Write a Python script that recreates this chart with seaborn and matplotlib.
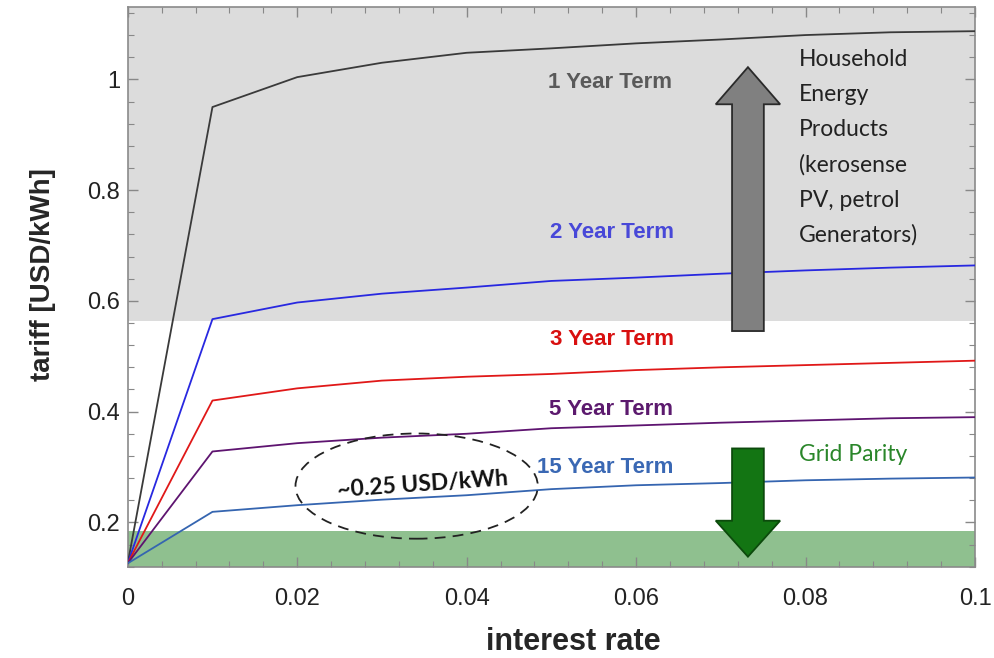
import numpy as np
import pandas as pd
import matplotlib
matplotlib.use("Agg")
import matplotlib.pyplot as plt
from matplotlib.patches import Ellipse, FancyArrow
from matplotlib.ticker import MultipleLocator
import seaborn as sns

# data
rate = [0.0, 0.01, 0.02, 0.03, 0.04, 0.05, 0.06, 0.07, 0.08, 0.09, 0.10]
term_1y = [0.126, 0.950, 1.004, 1.030, 1.048, 1.056, 1.065, 1.072, 1.080, 1.085, 1.087]
term_2y = [0.126, 0.567, 0.597, 0.613, 0.624, 0.636, 0.642, 0.649, 0.655, 0.660, 0.664]
term_3y = [0.126, 0.420, 0.442, 0.456, 0.463, 0.468, 0.475, 0.480, 0.484, 0.488, 0.492]
term_5y = [0.126, 0.328, 0.343, 0.353, 0.360, 0.370, 0.375, 0.380, 0.384, 0.388, 0.390]
term_15y = [0.126, 0.219, 0.231, 0.241, 0.249, 0.260, 0.267, 0.271, 0.276, 0.279, 0.281]

terms = ["1 Year Term", "2 Year Term", "3 Year Term", "5 Year Term", "15 Year Term"]
line_colors = ["#3a3a3a", "#2828e0", "#e01818", "#5e1470", "#3565b0"]
label_colors = ["#5a5a5a", "#4848d8", "#d81010", "#5c1a6e", "#3a68b4"]

household_lines = ["Household", "Energy", "Products", "(kerosense", "PV, petrol", "Generators)"]

grid_parity_top = 0.185
household_bottom = 0.564
ylim = (0.12, 1.13)
xlim = (0.0, 0.1)

df = pd.DataFrame({
    "rate": rate * 5,
    "tariff": term_1y + term_2y + term_3y + term_5y + term_15y,
    "term": [t for t in terms for _ in rate],
})

sns.set_style("ticks")
plt.rcParams["font.family"] = ["Liberation Sans", "DejaVu Sans"]
side_font = ["Lato", "DejaVu Sans"]

fig = plt.figure(figsize=(9.94, 6.58), dpi=100)
# right edge pulled in a little so the "0.1" tick label stays on the canvas
ax = fig.add_axes([0.1285, 0.1388, 0.8524, 0.85])

# shaded bands
ax.axhspan(household_bottom, ylim[1], color="#dcdcdc", zorder=0, lw=0)
ax.axhspan(ylim[0], grid_parity_top, color="#8fc08f", zorder=0, lw=0)

sns.lineplot(data=df, x="rate", y="tariff", hue="term", hue_order=terms,
             palette=dict(zip(terms, line_colors)), linewidth=1.3,
             legend=False, ax=ax, zorder=3)

ax.set_xlim(*xlim)
ax.set_ylim(*ylim)
ax.xaxis.set_major_locator(MultipleLocator(0.02))
ax.xaxis.set_minor_locator(MultipleLocator(0.004))
ax.yaxis.set_major_locator(MultipleLocator(0.2))
ax.yaxis.set_minor_locator(MultipleLocator(0.04))
ax.xaxis.set_major_formatter(plt.FuncFormatter(lambda v, p: f"{v:g}"))
ax.yaxis.set_major_formatter(plt.FuncFormatter(lambda v, p: f"{v:g}"))
ax.tick_params(which="both", direction="in", top=True, right=True, color="#888888")
ax.tick_params(which="major", length=7, width=1, labelsize=17, labelcolor="#222222")
ax.tick_params(which="minor", length=4, width=0.8)
ax.tick_params(axis="x", which="major", pad=15)
ax.tick_params(axis="y", which="major", pad=5.5)
for s in ax.spines.values():
    s.set_color("#8a8a8a")
    s.set_linewidth(1.2)

ax.set_xlabel("interest rate", fontsize=22, fontweight="bold")
ax.set_ylabel("tariff [USD/kWh]", fontsize=20, fontweight="bold")
ax.xaxis.set_label_coords(0.526, -0.108)
ax.yaxis.set_label_coords(-0.085, 0.523)

# curve labels (baseline positions)
label_pos = [(0.0569, 0.984), (0.0571, 0.714), (0.0571, 0.521), (0.0570, 0.394), (0.0563, 0.2895)]
for name, c, (lx, ly) in zip(terms, label_colors, label_pos):
    ax.text(lx, ly, name, color=c, fontsize=16, fontweight="bold",
            ha="center", va="baseline", zorder=5)

# arrows
ax.add_patch(FancyArrow(0.0732, 0.5455, 0, 1.022 - 0.5455, width=0.00375,
                        head_width=0.0076, head_length=0.067, length_includes_head=True,
                        facecolor="#808080", edgecolor="#2a2a2a", lw=1.3, zorder=4))
ax.add_patch(FancyArrow(0.0732, 0.3335, 0, 0.138 - 0.3335, width=0.00375,
                        head_width=0.0076, head_length=0.065, length_includes_head=True,
                        facecolor="#137513", edgecolor="#0c4a0c", lw=1.3, zorder=4))

# side notes
for i, line in enumerate(household_lines):
    ax.text(0.0792, 1.0237 - i * 0.0634, line, fontsize=16.5, family=side_font,
            color="#222222", ha="left", va="baseline", zorder=5)
ax.text(0.0792, 0.3105, "Grid Parity", fontsize=16.5, family=side_font,
        color="#2a862a", ha="left", va="baseline", zorder=5)

# dashed ellipse + note
ax.add_patch(Ellipse((0.0341, 0.2655), width=0.0286, height=0.190, fill=False,
                     edgecolor="#222222", linestyle=(0, (6, 4)), lw=1.3, zorder=5))
ax.text(0.0348, 0.269, "~0.25 USD/kWh", fontsize=16.5, fontweight="bold",
        family=side_font, rotation=4, ha="center", va="center",
        color="#111111", zorder=6)

fig.savefig("out.png", dpi=100)
